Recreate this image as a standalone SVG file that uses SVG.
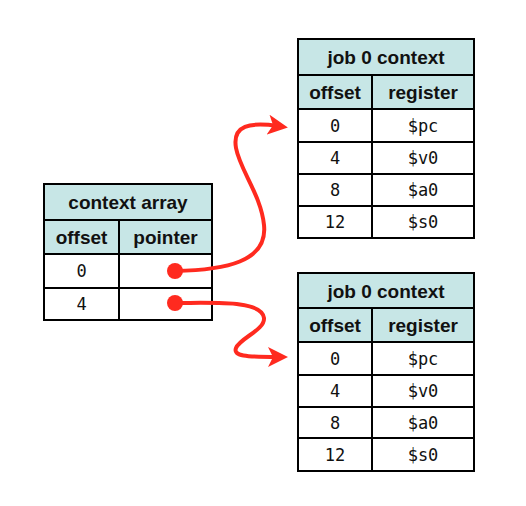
<svg xmlns="http://www.w3.org/2000/svg" width="526" height="506" viewBox="0 0 526 506">
  <defs>
    <style>
      .hdr { fill: #c7e6e6; }
      .cell { fill: #ffffff; }
      .grid { fill: none; stroke: #000000; stroke-width: 2; }
      .bold { font-family: "Liberation Sans", Arial, sans-serif; font-weight: bold; font-size: 19px; fill: #111111; text-anchor: middle; }
      .mono { font-family: "DejaVu Sans Mono", "Liberation Mono", monospace; font-size: 17px; fill: #111111; text-anchor: middle; }
      .wire { fill: none; stroke: #ff2a1f; stroke-width: 4; stroke-linecap: round; }
      .dot { fill: #ff2a1f; }
    </style>
    <marker id="arrow" viewBox="0 0 20 20" markerWidth="20" markerHeight="20" refX="10" refY="10" orient="auto" markerUnits="userSpaceOnUse">
      <path d="M0,0 L20,10 L0,20 L5,10 Z" fill="#ff2a1f"/>
    </marker>
  </defs>

  <rect width="526" height="506" fill="#ffffff"/>

  <!-- context array table -->
  <g id="context-array">
    <rect class="hdr" x="44" y="184" width="168" height="70"/>
    <rect class="cell" x="44" y="254" width="168" height="66"/>
    <path class="grid" d="M44,184 H212 V320 H44 Z M44,220 H212 M44,254 H212 M44,288 H212 M119,220 V320"/>
    <text class="bold" x="128" y="209">context array</text>
    <text class="bold" x="81.5" y="244">offset</text>
    <text class="bold" x="165.5" y="244">pointer</text>
    <text class="mono" x="81.5" y="277">0</text>
    <text class="mono" x="81.5" y="310">4</text>
  </g>

  <!-- first job context table -->
  <g id="job-context-top">
    <rect class="hdr" x="298" y="39" width="176" height="70"/>
    <rect class="cell" x="298" y="109" width="176" height="129"/>
    <path class="grid" d="M298,39 H474 V238 H298 Z M298,75 H474 M298,109 H474 M298,142 H474 M298,174 H474 M298,206 H474 M372,75 V238"/>
    <text class="bold" x="386" y="64">job 0 context</text>
    <text class="bold" x="335" y="99">offset</text>
    <text class="bold" x="423" y="99">register</text>
    <text class="mono" x="335" y="132">0</text>
    <text class="mono" x="423" y="132">$pc</text>
    <text class="mono" x="335" y="164">4</text>
    <text class="mono" x="423" y="164">$v0</text>
    <text class="mono" x="335" y="196">8</text>
    <text class="mono" x="423" y="196">$a0</text>
    <text class="mono" x="335" y="228">12</text>
    <text class="mono" x="423" y="228">$s0</text>
  </g>

  <!-- second job context table -->
  <g id="job-context-bottom">
    <rect class="hdr" x="298" y="273" width="176" height="69"/>
    <rect class="cell" x="298" y="342" width="176" height="129"/>
    <path class="grid" d="M298,273 H474 V471 H298 Z M298,308 H474 M298,342 H474 M298,375 H474 M298,407 H474 M298,438 H474 M372,308 V471"/>
    <text class="bold" x="386" y="298">job 0 context</text>
    <text class="bold" x="335" y="332">offset</text>
    <text class="bold" x="423" y="332">register</text>
    <text class="mono" x="335" y="365">0</text>
    <text class="mono" x="423" y="365">$pc</text>
    <text class="mono" x="335" y="397">4</text>
    <text class="mono" x="423" y="397">$v0</text>
    <text class="mono" x="335" y="429">8</text>
    <text class="mono" x="423" y="429">$a0</text>
    <text class="mono" x="335" y="461">12</text>
    <text class="mono" x="423" y="461">$s0</text>
  </g>

  <!-- pointers -->
  <g id="connectors">
    <path class="wire" d="M175,271 C225,270 268,262 264,225 C261,195 240,170 236,148 C232,125 250,122 278,126" marker-end="url(#arrow)"/>
    <circle class="dot" cx="175" cy="271" r="8"/>
    <path class="wire" d="M175,303 C215,303 262,300 264,318 C265,330 240,338 236,348 C233,356 245,357 278,357" marker-end="url(#arrow)"/>
    <circle class="dot" cx="175" cy="303" r="8"/>
  </g>
</svg>
